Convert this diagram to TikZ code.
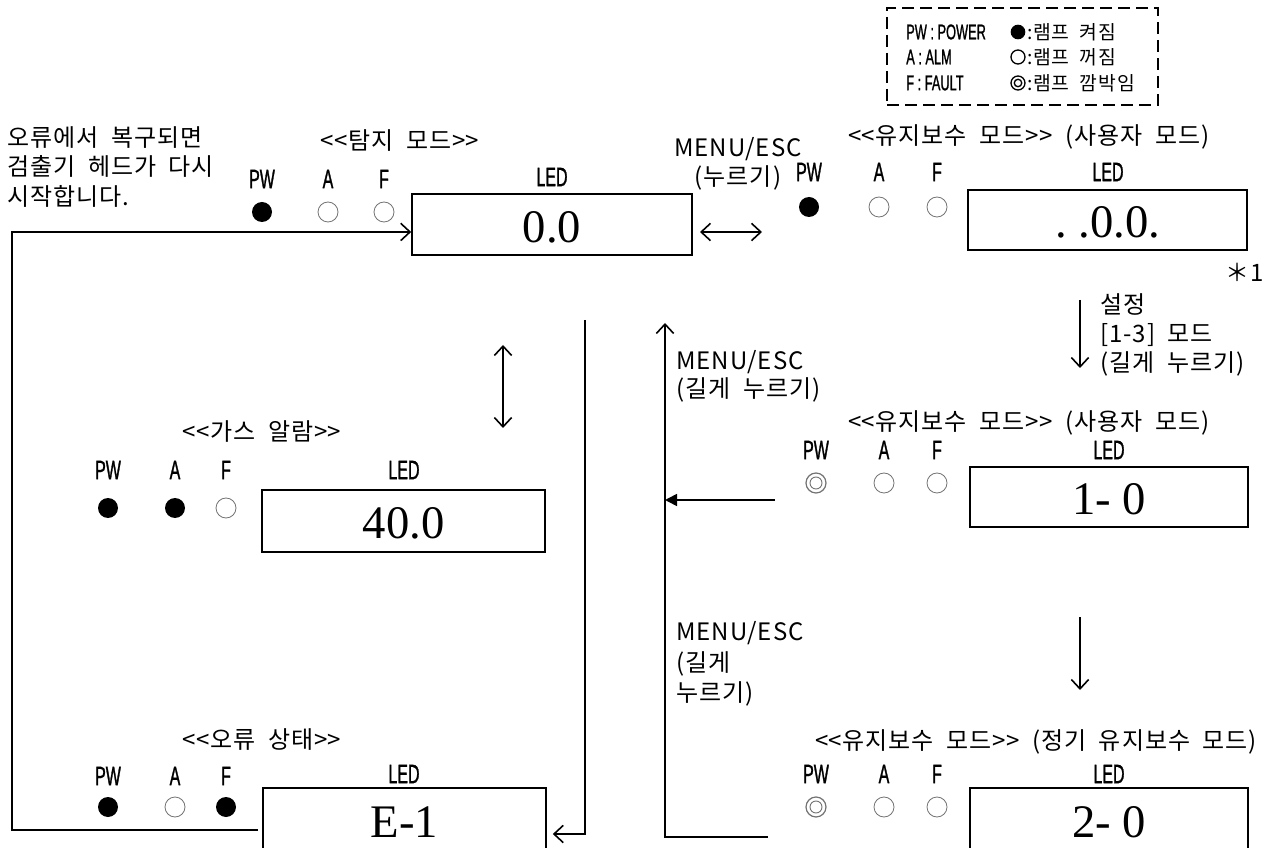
\documentclass[tikz,border=0pt]{standalone}
\usepackage{fontspec}
\newfontfamily\kr[WordSpace=2, LetterSpace=4]{Noto Sans CJK KR}
\newfontfamily\nar[FakeStretch=0.6, FakeBold=1]{Liberation Sans}
\newfontfamily\num{Liberation Serif}
\usetikzlibrary{arrows.meta}
\newcommand{\dlt}{<\kern0pt<}
\newcommand{\dgt}{>\kern0pt>}
\tikzset{
  wire/.style={line width=1.2pt},
  flow/.style={wire, -{Straight Barb[length=7pt, width=13pt, line width=1.2pt]}},
  flowboth/.style={wire, {Straight Barb[length=7pt, width=13pt, line width=1.2pt]}-{Straight Barb[length=7pt, width=13pt, line width=1.2pt]}},
  flowfill/.style={wire, -{Triangle[length=9pt, width=9pt]}},
  ledbox/.style={draw, line width=1.2pt, inner sep=0pt},
  digits/.style={inner sep=0pt, font=\num\fontsize{35}{38}\selectfont},
  lab/.style={inner sep=0pt, font=\nar\fontsize{20}{20}\selectfont},
  note/.style={inner sep=0pt, align=left, font=\kr\fontsize{18}{22}\selectfont},
  lampon/.style={circle, fill=black, minimum size=15pt, inner sep=0pt},
  lampoff/.style={circle, draw=black!55, line width=0.6pt, minimum size=15pt, inner sep=0pt},
  lampblink/.style={lampoff, line width=0.9pt, path picture={\draw[black!55, line width=0.7pt]
      (path picture bounding box.center) circle (4.5pt);}},
  legendbox/.style={draw, line width=2.2pt, dash pattern=on 9pt off 4.5pt, inner sep=0pt},
  legtext/.style={inner sep=0pt, anchor=west, font=\nar\fontsize{16}{16}\selectfont},
  legkr/.style={inner sep=0pt, anchor=west, font=\kr\fontsize{14.5}{14.5}\selectfont},
}
\begin{document}
\begin{tikzpicture}[x=0.75pt, y=-0.75pt]
  \useasboundingbox (0,0) rectangle (1282,848);
  \clip (0,0) rectangle (1282,848);

  % legend
  \node[legendbox, minimum width=203.25pt, minimum height=72.75pt] (leg) at (1022.5,56.5) {};
  \node[legtext] (legPW) at (906,32) {PW : POWER};
  \node[legtext] (legA) at (906,57) {A : ALM};
  \node[legtext] (legF) at (906,83) {F : FAULT};
  \node[circle, fill=black, minimum size=11pt, inner sep=0pt] (legOn) at (1018,32) {};
  \node[circle, draw, line width=1pt, minimum size=10.5pt, inner sep=0pt] (legOff) at (1018,57) {};
  \node[circle, draw, line width=1pt, minimum size=10.5pt, inner sep=0pt,
    path picture={\draw[line width=1pt] (path picture bounding box.center) circle (2.8pt);}] (legBl) at (1018,83) {};
  \node[legkr] (legOnT) at (1027,32) {:램프 켜짐};
  \node[legkr] (legOffT) at (1027,57) {:램프 꺼짐};
  \node[legkr] (legBlT) at (1027,83) {:램프 깜박임};

  % detection mode
  \node[note, anchor=west] (back) at (7,167) {오류에서 복구되면\\검출기 헤드가 다시\\시작합니다.};
  \node[note] (detT) at (400,141) {\dlt 탐지 모드\dgt};
  \node[lab] (detPW) at (262,179) {PW};
  \node[lab] (detA) at (328,179) {A};
  \node[lab] (detF) at (384,179) {F};
  \node[lab] (detL) at (552,177) {LED};
  \node[lampon] (detP1) at (262,212) {};
  \node[lampoff] (detA1) at (328,212) {};
  \node[lampoff] (detF1) at (384,212) {};
  \node[ledbox, minimum width=210pt, minimum height=45.75pt] (det) at (552,224.5) {};
  \node[digits] (detV) at (552,227) {0.0};
  \node[note, align=center] (keyShort) at (738,164) {MENU/ESC\\(누르기)};

  % maintenance mode, user
  \node[note, anchor=west] (usrT) at (848,137) {\dlt 유지보수 모드\dgt\ (사용자 모드)};
  \node[lab] (usrPW) at (809,172) {PW};
  \node[lab] (usrA) at (879,172) {A};
  \node[lab] (usrF) at (937,172) {F};
  \node[lab] (usrL) at (1108,172) {LED};
  \node[lampon] (usrP1) at (809,207) {};
  \node[lampoff] (usrA1) at (879,207) {};
  \node[lampoff] (usrF1) at (937,207) {};
  \node[ledbox, minimum width=209.25pt, minimum height=45pt] (usr) at (1107.5,220) {};
  \node[digits] (usrV) at (1107.5,222) {.\ .0.0.};
  \node[note] (star) at (1245,272) {＊1};
  \node[note, anchor=west] (keySet) at (1100,335) {설정\\{}[1-3] 모드\\(길게 누르기)};

  % gas alarm
  \node[note] (gasT) at (262,432) {\dlt 가스 알람\dgt};
  \node[lab] (gasPW) at (108,470) {PW};
  \node[lab] (gasA) at (175,470) {A};
  \node[lab] (gasF) at (226,470) {F};
  \node[lab] (gasL) at (404,470) {LED};
  \node[lampon] (gasP1) at (108,508) {};
  \node[lampon] (gasA1) at (175,508) {};
  \node[lampoff] (gasF1) at (226,508) {};
  \node[ledbox, minimum width=212.25pt, minimum height=46.5pt] (gas) at (403.5,521) {};
  \node[digits] (gasV) at (403.5,523) {40.0};

  % maintenance mode, settings
  \node[note, anchor=west] (setT) at (848,423) {\dlt 유지보수 모드\dgt\ (사용자 모드)};
  \node[lab] (setPW) at (816,450) {PW};
  \node[lab] (setA) at (884,450) {A};
  \node[lab] (setF) at (937,450) {F};
  \node[lab] (setL) at (1109,450) {LED};
  \node[lampblink] (setP1) at (816,483) {};
  \node[lampoff] (setA1) at (884,483) {};
  \node[lampoff] (setF1) at (937,483) {};
  \node[ledbox, minimum width=208.5pt, minimum height=45pt] (set) at (1109,497) {};
  \node[digits] (setV) at (1109,499) {1-\ 0};
  \node[note, anchor=west] (keyLong) at (676,376) [font=\kr\fontsize{18}{21}\selectfont] {MENU/ESC\\(길게 누르기)};
  \node[note, anchor=west] (keyLong2) at (676,664) [font=\kr\fontsize{18}{23}\selectfont] {MENU/ESC\\(길게\\누르기)};

  % maintenance mode, periodic
  \node[note, anchor=west] (regT) at (815,742) {\dlt 유지보수 모드\dgt\ (정기 유지보수 모드)};
  \node[lab] (regPW) at (816,774) {PW};
  \node[lab] (regA) at (884,774) {A};
  \node[lab] (regF) at (937,774) {F};
  \node[lab] (regL) at (1109,774) {LED};
  \node[lampblink] (regP1) at (816,807) {};
  \node[lampoff] (regA1) at (884,807) {};
  \node[lampoff] (regF1) at (937,807) {};
  \node[ledbox, minimum width=208.5pt, minimum height=61.5pt] (reg) at (1109,829) {};
  \node[digits] (regV) at (1109,822) {2-\ 0};

  % error state
  \node[note] (errT) at (262,740) {\dlt 오류 상태\dgt};
  \node[lab] (errPW) at (108,776) {PW};
  \node[lab] (errA) at (175,776) {A};
  \node[lab] (errF) at (226,776) {F};
  \node[lab] (errL) at (404,774) {LED};
  \node[lampon] (errP1) at (108,807) {};
  \node[lampoff] (errA1) at (175,807) {};
  \node[lampon] (errF1) at (226,807) {};
  \node[ledbox, minimum width=212.25pt, minimum height=61.5pt] (err) at (404.5,829) {};
  \node[digits] (errV) at (404.5,822) {E-1};

  % connectors
  \coordinate (loopA) at (258,830);
  \coordinate (loopB) at (12,830);
  \draw[flow] (loopA) -- (loopB) |- ([yshift=-5.6pt]det.west);
  \coordinate (swA) at (700,232);
  \coordinate (swB) at (762,232);
  \draw[flowboth] (swA) -- (swB);
  \coordinate (dnA) at (1080,300);
  \coordinate (dnB) at (1080,368);
  \draw[flow] (dnA) -- (dnB);
  \coordinate (dnC) at (1080,617);
  \coordinate (dnD) at (1080,690);
  \draw[flow] (dnC) -- (dnD);
  \coordinate (upDn) at (503,345);
  \coordinate (upDnB) at (503,428);
  \draw[flowboth] (upDn) -- (upDnB);
  \coordinate (errTop) at (585,320);
  \draw[flow] (errTop) |- ([xshift=4.5pt, yshift=-3.75pt]err.east);
  \coordinate (retBot) at (768,837);
  \coordinate (retTop) at (665,323);
  \draw[flow] (retBot) -| (retTop);
  \coordinate (setOut) at (775,500);
  \draw[flowfill] (setOut) -- (setOut -| retTop);
\end{tikzpicture}
\end{document}
